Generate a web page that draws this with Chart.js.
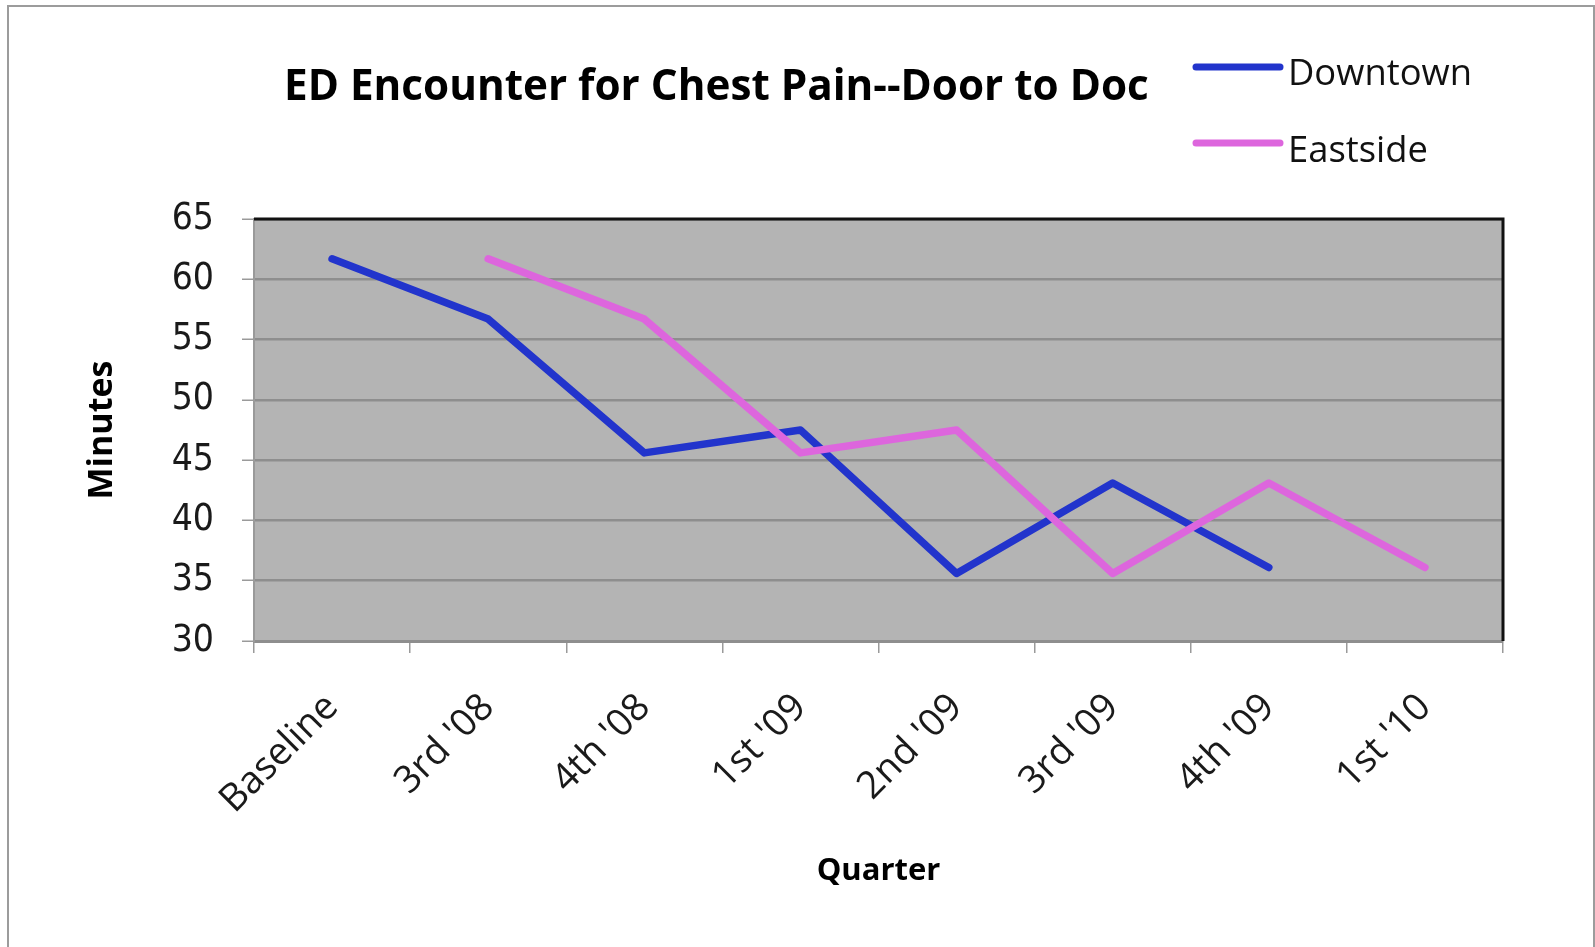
<!DOCTYPE html>
<html><head><meta charset="utf-8">
<script src="https://cdn.jsdelivr.net/npm/chart.js@4.4.1/dist/chart.umd.min.js"></script>
<style>
html,body{margin:0;padding:0;background:#fff;overflow:hidden}
#frame{position:absolute;left:7px;top:5px;width:1588px;height:1000px;border:2px solid #9c9c9c;box-sizing:border-box;}
#wrap{position:absolute;left:0;top:0;width:1595px;height:947px}
</style></head><body>
<div id="frame"></div>
<div id="wrap"><canvas id="c" width="1595" height="947"></canvas></div>
<script>
const chartTitle = "ED Encounter for Chest Pain--Door to Doc";
const xAxisTitle = "Quarter";
const yAxisTitle = "Minutes";
const categories = ["Baseline","3rd '08","4th '08","1st '09","2nd '09","3rd '09","4th '09","1st '10"];
const downtown = [61.7, 56.7, 45.6, 47.5, 35.6, 43.1, 36.1, null];
const eastside = [null, 61.7, 56.7, 45.6, 47.5, 35.6, 43.1, 36.1];
const seriesNames = ["Downtown", "Eastside"];
const seriesColors = ["#2234cc", "#dd66dd"];
const yMin = 30, yMax = 65, yStep = 5;

const PLOT = {left: 254, right: 1503, top: 219, bottom: 641};

function fitFont(ctx, text, weight, family, targetW) {
  ctx.font = weight + ' 100px ' + family;
  const w = ctx.measureText(text).width;
  return 100 * targetW / w;
}

const decor = {
  id: 'decor',
  beforeDraw(chart) {
    const {ctx, chartArea: a} = chart;
    ctx.save();
    ctx.fillStyle = '#b4b4b4';
    ctx.fillRect(a.left, a.top, a.right - a.left, a.bottom - a.top);
    ctx.restore();
  },
  afterDraw(chart) {
    const {ctx, chartArea: a} = chart;
    ctx.save();
    ctx.strokeStyle = '#111';
    ctx.lineWidth = 3;
    ctx.beginPath();
    ctx.moveTo(a.left, a.top);
    ctx.lineTo(a.right, a.top);
    ctx.lineTo(a.right, a.bottom);
    ctx.stroke();
    const fam = "'Open Sans', 'DejaVu Sans', sans-serif";
    const ts = fitFont(ctx, chartTitle, 'bold', fam, 865);
    ctx.font = 'bold ' + ts + 'px ' + fam;
    ctx.fillStyle = '#000';
    ctx.textAlign = 'left';
    ctx.textBaseline = 'alphabetic';
    ctx.fillText(chartTitle, 284, 100);
    const ls = fitFont(ctx, seriesNames[0], 'normal', fam, 184);
    const rows = [{ly: 67, ty: 85}, {ly: 143, ty: 162}];
    seriesNames.forEach((n, i) => {
      ctx.strokeStyle = seriesColors[i];
      ctx.lineWidth = 7;
      ctx.lineCap = 'round';
      ctx.beginPath();
      ctx.moveTo(1196, rows[i].ly);
      ctx.lineTo(1280, rows[i].ly);
      ctx.stroke();
      ctx.font = 'normal ' + ls + 'px ' + fam;
      ctx.fillStyle = '#111';
      ctx.fillText(n, 1288, rows[i].ty);
    });
    ctx.restore();
  }
};

new Chart(document.getElementById('c'), {
  type: 'line',
  data: {
    labels: categories,
    datasets: [
      {label: seriesNames[0], data: downtown, borderColor: seriesColors[0], backgroundColor: seriesColors[0],
       borderWidth: 7.5, pointRadius: 0, tension: 0, borderCapStyle: 'round', borderJoinStyle: 'round', order: 1},
      {label: seriesNames[1], data: eastside, borderColor: seriesColors[1], backgroundColor: seriesColors[1],
       borderWidth: 7.5, pointRadius: 0, tension: 0, borderCapStyle: 'round', borderJoinStyle: 'round', order: 0}
    ]
  },
  options: {
    responsive: false,
    devicePixelRatio: 1,
    animation: false,
    layout: {padding: {top: PLOT.top, right: 1595 - PLOT.right, left: 0, bottom: 0}},
    plugins: {legend: {display: false}, tooltip: {enabled: false}, title: {display: false}},
    scales: {
      x: {
        type: 'category',
        offset: true,
        afterFit(s) { s.height = 947 - PLOT.bottom; },
        grid: {offset: true, drawOnChartArea: false, drawTicks: true, tickLength: 12, color: '#9a9a9a', lineWidth: 1.5},
        border: {color: '#8e8e8e', width: 3},
        ticks: {minRotation: 45, maxRotation: 45, autoSkip: false, padding: 32, color: '#1a1a1a',
                font: {family: "'Open Sans', sans-serif", size: 38}},
        title: {display: true, text: xAxisTitle, color: '#000',
                font: {family: "'Open Sans', sans-serif", size: 31, weight: 'bold'},
                padding: {top: 0, bottom: 57}}
      },
      y: {
        min: yMin, max: yMax,
        afterFit(s) { s.width = PLOT.left; },
        grid: {color: '#8e8e8e', lineWidth: 2.5, tickLength: 12, tickColor: '#9a9a9a', tickWidth: 1.5},
        border: {color: '#9a9a9a', width: 2},
        ticks: {stepSize: yStep, padding: 28, color: '#1a1a1a',
                font: {family: "'DejaVu Sans Condensed', 'Open Sans', sans-serif", size: 37}},
        title: {display: true, text: yAxisTitle, color: '#000',
                font: {family: "'Open Sans', sans-serif", size: 34, weight: 'bold'},
                padding: {top: 82, bottom: 0}}
      }
    }
  },
  plugins: [decor]
});
</script>
</body></html>
